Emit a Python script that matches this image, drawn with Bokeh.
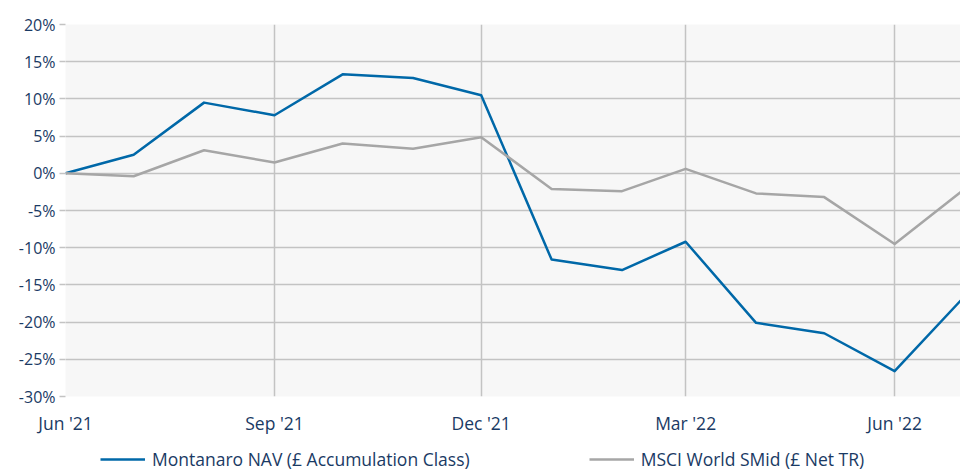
import pandas as pd
from bokeh.plotting import figure
from bokeh.layouts import column
from bokeh.models import (Range1d, FixedTicker, DatetimeTickFormatter, Legend, LegendItem)
from bokeh.embed import file_html
from bokeh.resources import INLINE

# ---- data (cumulative performance, %) ----
months = ["2021-06-01", "2021-07-01", "2021-08-01", "2021-09-01", "2021-10-01",
          "2021-11-01", "2021-12-01", "2022-01-01", "2022-02-01", "2022-03-01",
          "2022-04-01", "2022-05-01", "2022-06-01", "2022-07-01"]
montanaro = [0.0, 2.5, 9.5, 7.8, 13.3, 12.8, 10.5, -11.6, -13.0, -9.2,
             -20.1, -21.5, -26.6, -16.8]
msci = [0.0, -0.4, 3.1, 1.45, 4.0, 3.3, 4.85, -2.1, -2.4, 0.6,
        -2.7, -3.2, -9.5, -2.3]
tick_dates = ["2021-06-01", "2021-09-01", "2021-12-01", "2022-03-01", "2022-06-01"]
y_ticks = [-30, -25, -20, -15, -10, -5, 0, 5, 10, 15, 20]
series_names = ["Montanaro NAV (\u00a3 Accumulation Class)", "MSCI World SMid (\u00a3 Net TR)"]

x = pd.to_datetime(months)
ticks_ms = [pd.Timestamp(d).value / 1e6 for d in tick_dates]

FONT = "Open Sans"
TEXT = "#1A3A64"
GRID = "#c3c3c3"
BLUE = "#0068A8"
GRAY = "#A6A6A6"

p = figure(width=960, height=440, x_axis_type="datetime",
           output_backend="svg", toolbar_location=None,
           x_range=Range1d(pd.Timestamp("2021-06-01"), pd.Timestamp("2022-06-30")),
           y_range=Range1d(-30, 20),
           min_border_left=65, min_border_right=0, min_border_top=24, min_border_bottom=44)

p.background_fill_color = "#f7f7f7"
p.border_fill_color = "white"
p.outline_line_color = None

r1 = p.line(x, montanaro, line_color=BLUE, line_width=2.5, line_join="round")
r2 = p.line(x, msci, line_color=GRAY, line_width=2.5, line_join="round")

# axes
p.xaxis.ticker = FixedTicker(ticks=ticks_ms)
fmt = "%b '%y"
p.xaxis.formatter = DatetimeTickFormatter(days=fmt, months=fmt, years=fmt, hours=fmt,
                                          minutes=fmt, seconds=fmt, milliseconds=fmt,
                                          microseconds=fmt, minsec=fmt, hourmin=fmt)
p.xaxis.axis_line_color = None
p.xaxis.major_tick_line_color = None
p.xaxis.minor_tick_line_color = None
p.xaxis.major_label_standoff = 8

p.yaxis.ticker = FixedTicker(ticks=y_ticks)
p.yaxis.major_label_overrides = {v: f"{v}%" for v in y_ticks}
p.yaxis.axis_line_color = None
p.yaxis.major_tick_line_color = GRID
p.yaxis.major_tick_line_width = 1.5
p.yaxis.major_tick_out = 6
p.yaxis.major_tick_in = 0
p.yaxis.minor_tick_line_color = None
p.yaxis.major_label_standoff = 4

for ax in (p.xaxis, p.yaxis):
    ax.major_label_text_font = FONT
    ax.major_label_text_color = TEXT
p.yaxis.major_label_text_font_size = "16px"
p.xaxis.major_label_text_font_size = "17.5px"

p.xgrid.ticker = FixedTicker(ticks=ticks_ms)
p.ygrid.ticker = FixedTicker(ticks=y_ticks)
p.xgrid.grid_line_color = GRID
p.ygrid.grid_line_color = GRID
p.xgrid.grid_line_width = 1.5
p.ygrid.grid_line_width = 1.5

# ---- legend strip below the chart (proxy renderers carry the series styles) ----
lg = figure(width=960, height=31, output_backend="svg", toolbar_location=None,
            x_range=Range1d(0, 1), y_range=Range1d(0, 1),
            min_border_left=0, min_border_right=0, min_border_top=0, min_border_bottom=0)
lg.axis.visible = False
lg.grid.visible = False
lg.outline_line_color = None
lg.background_fill_color = "white"
l1 = lg.line(x=[-1], y=[-1], line_color=BLUE, line_width=2.5)
l2 = lg.line(x=[-1], y=[-1], line_color=GRAY, line_width=2.5)

legend = Legend(items=[LegendItem(label=series_names[0], renderers=[l1]),
                       LegendItem(label=series_names[1], renderers=[l2])],
                orientation="horizontal", location=(35, 0),
                background_fill_alpha=0, border_line_color=None,
                padding=0, margin=0, spacing=119,
                glyph_width=45, glyph_height=18, label_height=18,
                label_standoff=7,
                label_text_font=FONT, label_text_font_size="17.5px",
                label_text_color=TEXT)
lg.add_layout(legend)

layout = column(p, lg, spacing=0)
open("out.html", "w").write(file_html(layout, INLINE))
